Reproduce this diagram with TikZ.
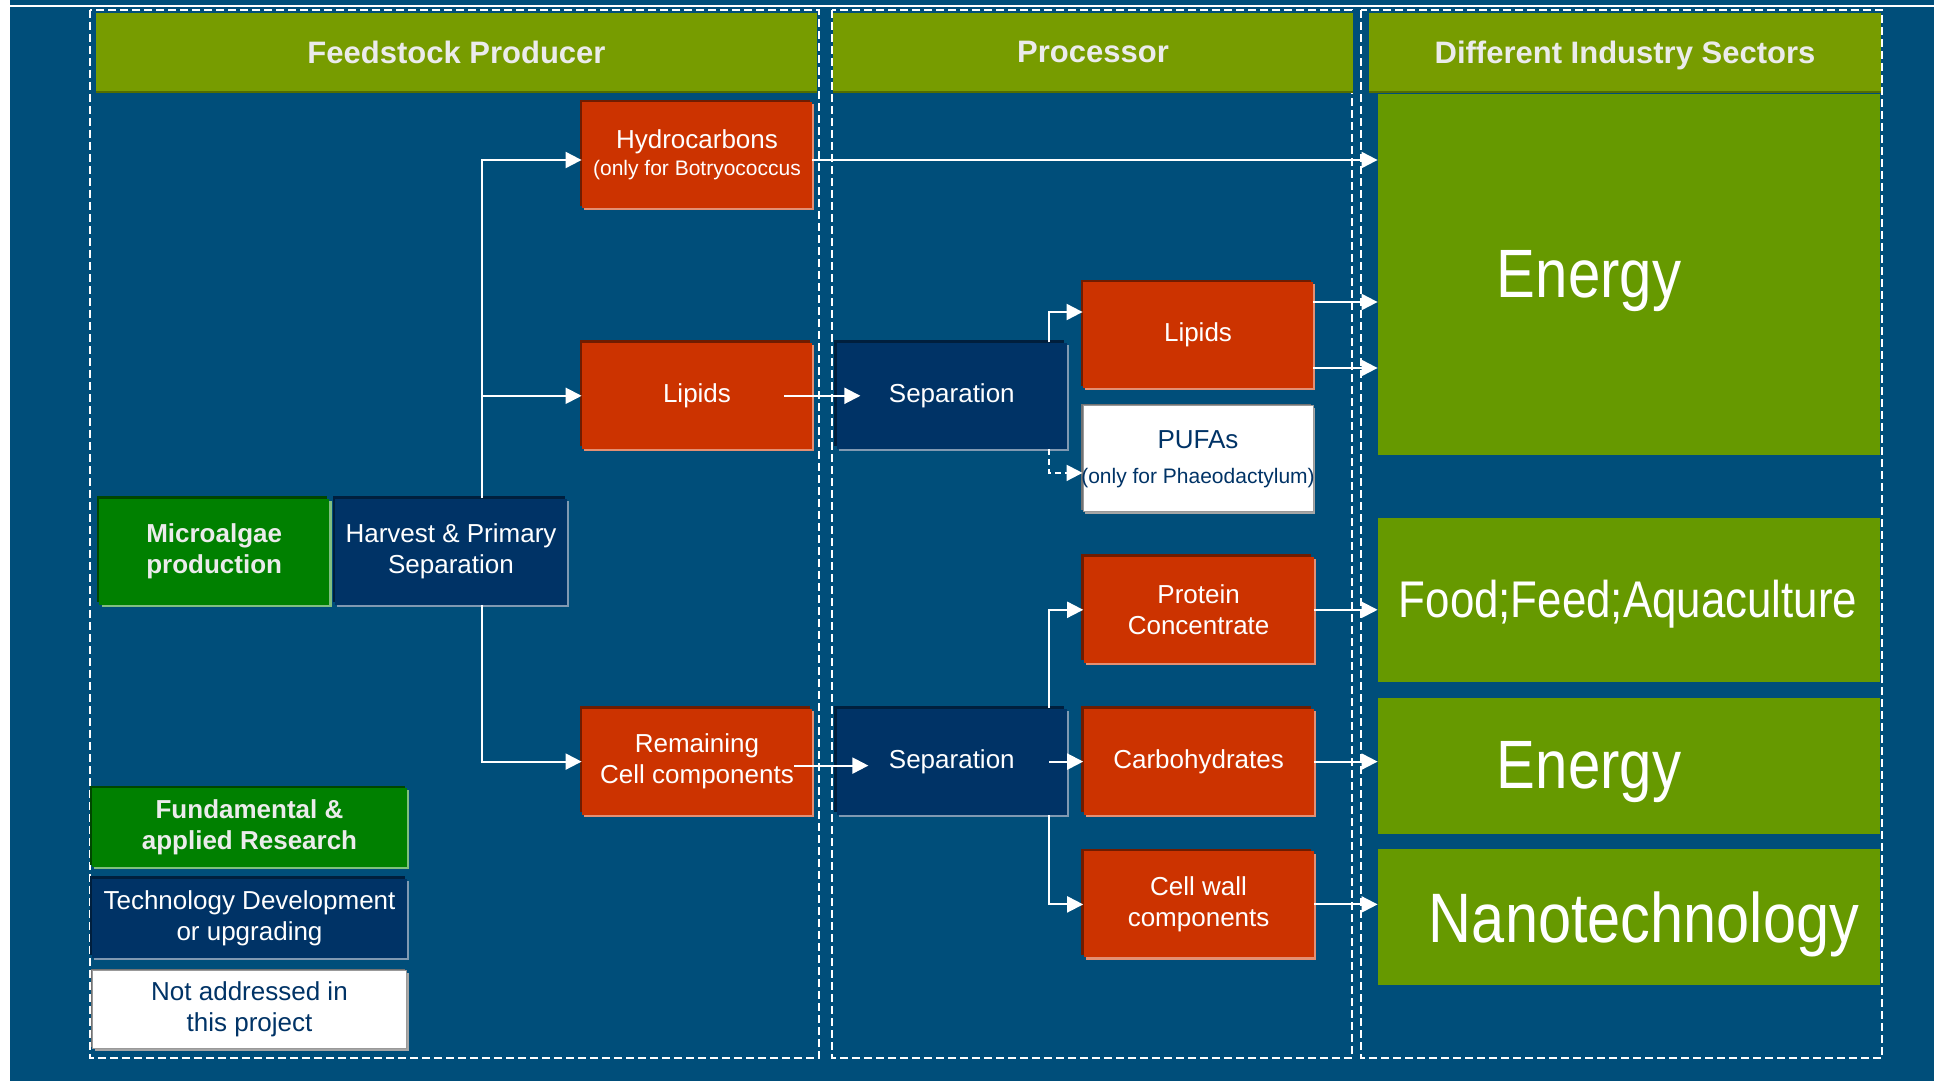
\documentclass[tikz,border=0pt]{standalone}
\usepackage{fontspec}
\setmainfont{Liberation Sans}
\newfontfamily\sectorfont[FakeStretch=0.85]{Liberation Sans}
\usepackage{tikz}
\usetikzlibrary{positioning,arrows.meta,shadows}
\definecolor{bgblue}{RGB}{0,78,122}
\definecolor{headolive}{RGB}{119,156,0}
\definecolor{sectorgreen}{RGB}{102,153,0}
\definecolor{boxred}{RGB}{204,51,0}
\definecolor{boxnavy}{RGB}{0,51,102}
\definecolor{boxgreen}{RGB}{0,128,0}
\definecolor{paletext}{RGB}{235,235,235}
\tikzstyle{basebox} = [rectangle, inner sep=0pt, minimum width=115pt, minimum height=53pt, align=center, font=\fontsize{13}{15.5}\selectfont]
\tikzstyle{redbox} = [basebox, fill=boxred, text=white, general shadow={fill=boxred!55!black, shadow xshift=-1.2pt, shadow yshift=1.2pt}, general shadow={fill=boxred!55!white, shadow xshift=1.2pt, shadow yshift=-1.2pt}]
\tikzstyle{navybox} = [basebox, fill=boxnavy, text=white, general shadow={fill=boxnavy!60!black, shadow xshift=-1.2pt, shadow yshift=1.2pt}, general shadow={fill=boxnavy!50!white, shadow xshift=1.2pt, shadow yshift=-1.2pt}]
\tikzstyle{greenbox} = [basebox, fill=boxgreen, text=paletext, font=\bfseries\fontsize{13}{15.5}\selectfont, general shadow={fill=boxgreen!55!black, shadow xshift=-1.2pt, shadow yshift=1.2pt}, general shadow={fill=boxgreen!50!white, shadow xshift=1.2pt, shadow yshift=-1.2pt}]
\tikzstyle{whitebox} = [basebox, fill=white, draw=gray!80, line width=0.5pt, text=boxnavy, general shadow={fill=gray!90!black, shadow xshift=-0.8pt, shadow yshift=0.8pt}, general shadow={fill=gray!70, shadow xshift=1.2pt, shadow yshift=-1.2pt}]
\tikzstyle{header} = [rectangle, inner sep=0pt, minimum height=39pt, fill=headolive, text=paletext, font=\bfseries\fontsize{15.5}{18}\selectfont, general shadow={fill=headolive!70!black, shadow yshift=-1pt}]
\tikzstyle{sectorbox} = [rectangle, inner sep=0pt, minimum width=251pt, fill=sectorgreen]
\tikzstyle{sectortext} = [inner sep=0pt, text=white]
\tikzstyle{colframe} = [draw=white, line width=0.9pt, dash pattern=on 4pt off 2pt]
\tikzstyle{tedge} = [draw, white, line width=1pt, >={Triangle[length=8pt, width=8pt]}, ->]

\begin{document}
\begin{tikzpicture}[x=0.5pt, y=-0.5pt]
\useasboundingbox (0,0) rectangle (1934,1081);

% background =============================
\fill[bgblue] (0,0) rectangle (1934,1081);
\fill[white] (0,0) rectangle (10,1081);
\draw[white, line width=1.2pt] (10,6) -- (1934,6);
\draw[colframe] (90,10) rectangle (819,1058);
\draw[colframe] (832,10) rectangle (1352,1058);
\draw[colframe] (1361,10) rectangle (1882,1058);

% headers
\node[header, minimum width=360.5pt, text depth=0pt] (hfeed) at (456.5,52) {Feedstock Producer};
\node[header, minimum width=260pt, text depth=0pt] (hproc) at (1093,52) {Processor};
\node[header, minimum width=256pt, text depth=0pt] (hsect) at (1625,52) {Different Industry Sectors};

% feedstock producer =============================
\node[navybox, minimum width=116pt] (harvest) at (451,551.5) {Harvest \& Primary\\Separation};
\node[greenbox, left=2.5pt of harvest] (micro) {Microalgae\\production};
\node[redbox] (hydro) at (697,155) {\raisebox{-2pt}{Hydrocarbons}\\{\fontsize{10.5}{12.5}\selectfont(only for Botryococcus}};
\node[redbox, below=67pt of hydro] (lipA) {Lipids};
\node[redbox, below=129.5pt of lipA] (remain) {Remaining\\Cell components};

% legend
\node[greenbox, minimum width=157.5pt, minimum height=39.5pt] (legfund) at (249.5,827.5) {Fundamental \&\\applied Research};
\node[navybox, minimum width=157.5pt, minimum height=39.5pt, below=5.5pt of legfund] (legtech) {Technology Development\\or upgrading};
\node[whitebox, minimum width=157pt, minimum height=39pt, below=6pt of legtech] (legnot) {Not addressed in\\this project};

% processor =============================
\node[navybox, right=12pt of lipA] (sepA) {Separation};
\node[navybox, right=12pt of remain] (sepB) {Separation};
\node[redbox] (lipB) at (1198,335) {Lipids};
\node[whitebox, below=8.5pt of lipB] (pufa) {PUFAs\\[2pt]{\fontsize{10.5}{12.5}\selectfont\makebox[0pt]{(only for Phaeodactylum)}}};
\node[redbox, right=8pt of sepB] (carb) {Carbohydrates};
\node[redbox, above=22.5pt of carb] (prot) {Protein\\Concentrate};
\node[redbox, below=18pt of carb] (wall) {Cell wall\\components};

% industry sectors =============================
\node[sectorbox, minimum height=180.5pt] (energyA) at (1629,274.5) {};
\node[sectorbox, minimum height=82pt] (food) at (1629,600) {};
\node[sectorbox, minimum height=68pt] (energyB) at (1629,766) {};
\node[sectorbox, minimum height=68pt] (nano) at (1629,917) {};
\node[sectortext, font=\sectorfont\fontsize{34.2}{38}\selectfont] (energyAtext) at (1589,281.5) {Energy};
\node[sectortext, font=\sectorfont\fontsize{25.8}{30}\selectfont] (foodtext) at (1628,604) {Food;Feed;Aquaculture};
\node[sectortext, font=\sectorfont\fontsize{34.2}{38}\selectfont] (energyBtext) at (1589,772) {Energy};
\node[sectortext, font=\sectorfont\fontsize{35}{40}\selectfont] (nanotext) at (1644,924) {Nanotechnology};

% edges
\coordinate (forkA) at (482,0);
\coordinate (forkB) at (1049,0);
\path[tedge] (forkA |- harvest.north) |- ([yshift=-2.5pt]hydro.west);
\path[tedge] (forkA |- harvest.north) |- (lipA.west);
\path[tedge] (forkA |- harvest.south) |- (remain.west);
\path[tedge] ([yshift=-2.5pt]hydro.east) -- ([yshift=-2.5pt]hydro.east -| energyA.west);
\path[tedge] ([xshift=-14pt]lipA.east) -- ([xshift=12pt]sepA.west);
\path[tedge] ([xshift=-9pt, yshift=-2pt]remain.east) -- ([xshift=16pt, yshift=-2pt]sepB.west);
\path[tedge] (forkB |- sepA.north) |- ([yshift=11.5pt]lipB.west);
\path[tedge, dash pattern=on 3pt off 2pt] (forkB |- sepA.south) |- ([yshift=-7pt]pufa.west);
\path[tedge] ([yshift=16.5pt]lipB.east) -- ([yshift=16.5pt]lipB.east -| energyA.west);
\path[tedge] ([yshift=-16.5pt]lipB.east) -- ([yshift=-16.5pt]lipB.east -| energyA.west);
\path[tedge] (forkB |- sepB.north) |- (prot.west);
\path[tedge] (forkB |- carb.west) -- (carb.west);
\path[tedge] (forkB |- sepB.south) |- (wall.west);
\path[tedge] (prot.east) -- (prot.east -| food.west);
\path[tedge] (carb.east) -- (carb.east -| energyB.west);
\path[tedge] (wall.east) -- (wall.east -| nano.west);

\end{tikzpicture}
\end{document}
